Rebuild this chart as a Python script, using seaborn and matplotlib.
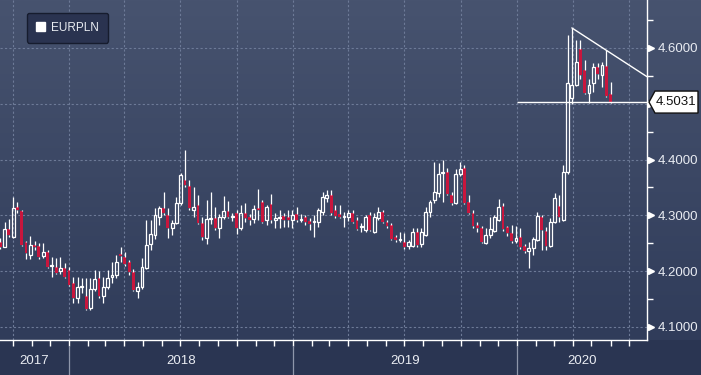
import numpy as np
import pandas as pd
import matplotlib
matplotlib.use("Agg")
import matplotlib.pyplot as plt
import matplotlib.dates as mdates
import matplotlib.transforms as mtrans
from matplotlib.patches import Polygon, Patch
from matplotlib.colors import LinearSegmentedColormap
from matplotlib.ticker import FixedLocator, FuncFormatter
import seaborn as sns

# ---------------- data (weekly EURPLN candles) ----------------
first_week = "2017-09-11"
opens = [4.253, 4.243, 4.276, 4.261, 4.315, 4.308, 4.252, 4.229, 4.247, 4.245,
         4.227, 4.234, 4.209, 4.208, 4.200, 4.206, 4.202, 4.179, 4.152, 4.172,
         4.155, 4.134, 4.168, 4.188, 4.156, 4.172, 4.190, 4.193, 4.231, 4.225,
         4.216, 4.199, 4.164, 4.172, 4.206, 4.249, 4.265, 4.298, 4.313, 4.300,
         4.277, 4.286, 4.322, 4.363, 4.352, 4.309, 4.318, 4.286, 4.260, 4.294,
         4.295, 4.277, 4.297, 4.308, 4.297, 4.304, 4.277, 4.305, 4.297, 4.293,
         4.313, 4.324, 4.292, 4.320, 4.292, 4.295, 4.299, 4.298, 4.292, 4.302,
         4.292, 4.297, 4.290, 4.288, 4.288, 4.306, 4.331, 4.337, 4.309, 4.302,
         4.297, 4.297, 4.304, 4.291, 4.279, 4.274, 4.301, 4.270, 4.296, 4.306,
         4.288, 4.283, 4.261, 4.256, 4.252, 4.245, 4.246, 4.270, 4.248, 4.265,
         4.306, 4.327, 4.340, 4.376, 4.378, 4.336, 4.322, 4.374, 4.385, 4.324,
         4.304, 4.283, 4.277, 4.250, 4.265, 4.272, 4.292, 4.317, 4.279, 4.268,
         4.254, 4.261, 4.245, 4.236, 4.242, 4.256, 4.297, 4.272, 4.245, 4.288,
         4.317, 4.292, 4.377, 4.511, 4.534, 4.598, 4.561, 4.519, 4.537, 4.566,
         4.552, 4.568, 4.518]
highs = [4.260, 4.288, 4.293, 4.333, 4.324, 4.310, 4.255, 4.263, 4.255, 4.250,
         4.250, 4.238, 4.225, 4.224, 4.225, 4.215, 4.208, 4.190, 4.190, 4.188,
         4.188, 4.188, 4.202, 4.200, 4.190, 4.202, 4.217, 4.229, 4.243, 4.234,
         4.220, 4.204, 4.180, 4.224, 4.292, 4.292, 4.313, 4.317, 4.342, 4.313,
         4.292, 4.333, 4.376, 4.417, 4.363, 4.351, 4.336, 4.297, 4.327, 4.342,
         4.315, 4.302, 4.334, 4.326, 4.305, 4.309, 4.318, 4.322, 4.302, 4.318,
         4.347, 4.327, 4.318, 4.338, 4.304, 4.309, 4.304, 4.310, 4.310, 4.315,
         4.302, 4.300, 4.295, 4.300, 4.314, 4.342, 4.345, 4.345, 4.319, 4.319,
         4.306, 4.309, 4.309, 4.297, 4.286, 4.301, 4.306, 4.305, 4.315, 4.310,
         4.292, 4.286, 4.265, 4.270, 4.268, 4.256, 4.277, 4.277, 4.277, 4.315,
         4.327, 4.396, 4.394, 4.399, 4.385, 4.342, 4.383, 4.396, 4.390, 4.336,
         4.310, 4.288, 4.281, 4.277, 4.297, 4.301, 4.330, 4.322, 4.281, 4.283,
         4.281, 4.277, 4.249, 4.253, 4.261, 4.306, 4.301, 4.279, 4.295, 4.340,
         4.336, 4.390, 4.623, 4.636, 4.614, 4.614, 4.578, 4.545, 4.573, 4.573,
         4.575, 4.596, 4.539]
lows = [4.240, 4.243, 4.262, 4.259, 4.305, 4.245, 4.222, 4.222, 4.238, 4.222,
        4.224, 4.205, 4.189, 4.195, 4.195, 4.188, 4.173, 4.143, 4.143, 4.161,
        4.130, 4.130, 4.165, 4.152, 4.143, 4.168, 4.179, 4.188, 4.217, 4.209,
        4.193, 4.165, 4.152, 4.168, 4.204, 4.238, 4.258, 4.283, 4.300, 4.259,
        4.265, 4.284, 4.318, 4.350, 4.310, 4.297, 4.284, 4.256, 4.249, 4.285,
        4.274, 4.260, 4.293, 4.295, 4.290, 4.267, 4.274, 4.288, 4.283, 4.286,
        4.292, 4.286, 4.283, 4.286, 4.277, 4.277, 4.280, 4.280, 4.277, 4.288,
        4.288, 4.283, 4.274, 4.262, 4.280, 4.300, 4.324, 4.300, 4.295, 4.295,
        4.280, 4.290, 4.286, 4.274, 4.270, 4.270, 4.272, 4.268, 4.292, 4.286,
        4.277, 4.256, 4.252, 4.252, 4.240, 4.240, 4.243, 4.243, 4.244, 4.263,
        4.297, 4.322, 4.333, 4.324, 4.336, 4.319, 4.320, 4.370, 4.320, 4.302,
        4.277, 4.270, 4.250, 4.249, 4.260, 4.270, 4.290, 4.272, 4.263, 4.251,
        4.251, 4.240, 4.233, 4.205, 4.229, 4.254, 4.238, 4.238, 4.243, 4.286,
        4.288, 4.290, 4.374, 4.500, 4.532, 4.545, 4.517, 4.501, 4.521, 4.545,
        4.530, 4.512, 4.501]
closes = [4.244, 4.276, 4.265, 4.313, 4.309, 4.247, 4.232, 4.247, 4.244, 4.225,
          4.234, 4.207, 4.212, 4.196, 4.206, 4.190, 4.175, 4.152, 4.172, 4.174,
          4.132, 4.168, 4.186, 4.156, 4.172, 4.188, 4.193, 4.216, 4.227, 4.213,
          4.199, 4.166, 4.172, 4.208, 4.247, 4.267, 4.300, 4.313, 4.304, 4.277,
          4.286, 4.322, 4.372, 4.354, 4.313, 4.315, 4.286, 4.261, 4.294, 4.295,
          4.277, 4.298, 4.308, 4.297, 4.299, 4.278, 4.305, 4.295, 4.292, 4.311,
          4.310, 4.288, 4.315, 4.292, 4.295, 4.296, 4.292, 4.292, 4.300, 4.292,
          4.294, 4.288, 4.285, 4.290, 4.310, 4.333, 4.337, 4.304, 4.299, 4.297,
          4.299, 4.304, 4.288, 4.276, 4.281, 4.297, 4.274, 4.297, 4.306, 4.288,
          4.281, 4.258, 4.256, 4.258, 4.243, 4.252, 4.270, 4.247, 4.270, 4.306,
          4.324, 4.342, 4.374, 4.378, 4.338, 4.322, 4.374, 4.383, 4.322, 4.304,
          4.281, 4.278, 4.252, 4.265, 4.275, 4.297, 4.315, 4.276, 4.268, 4.254,
          4.259, 4.243, 4.236, 4.242, 4.258, 4.299, 4.274, 4.245, 4.288, 4.331,
          4.297, 4.378, 4.537, 4.534, 4.575, 4.552, 4.519, 4.534, 4.566, 4.553,
          4.570, 4.514, 4.5031]
y_ticks = [4.1, 4.2, 4.3, 4.4, 4.5, 4.6]
years = [2017, 2018, 2019, 2020]
series_name = "EURPLN"

# ---------------- styling ----------------
sns.set_theme(style="dark")
plt.rcParams["font.family"] = ["Liberation Sans", "DejaVu Sans"]

RED = "#c8163d"
TXT = "#e9ecf2"
GRID = "#6d7a97"
FS = 9

fig = plt.figure(figsize=(7.01, 3.75), dpi=100)
fig.patch.set_facecolor("#2a3552")

bottom = 35 / 375
height = 340 / 375
bg = fig.add_axes([0, bottom, 1, height])
grad = np.linspace(0, 1, 256).reshape(-1, 1)
cmap = LinearSegmentedColormap.from_list("g", ["#47536f", "#303c5a"])
bg.imshow(grad, aspect="auto", cmap=cmap, extent=[0, 1, 0, 1], origin="upper")
bg.axis("off")

ax = fig.add_axes([0, bottom, 647 / 701, height])
ax.patch.set_alpha(0)

df = pd.DataFrame({"date": pd.date_range(first_week, periods=len(closes), freq="7D"),
                   "open": opens, "high": highs, "low": lows, "close": closes})
x = mdates.date2num(df["date"])
o = df["open"].to_numpy(); h = df["high"].to_numpy()
l = df["low"].to_numpy(); c = df["close"].to_numpy()
top = np.maximum(o, c); bot = np.minimum(o, c)
up = c >= o
last = c[-1]

ax.vlines(x, top, h, color="white", lw=0.9)
ax.vlines(x, l, bot, color="white", lw=0.9)
bw = 4.6
ax.bar(x[up], np.maximum(top[up] - bot[up], 0.0015), bottom=bot[up], width=bw,
       facecolor="none", edgecolor="white", linewidth=0.9)
ax.bar(x[~up], np.maximum(top[~up] - bot[~up], 0.0015), bottom=bot[~up], width=bw,
       color=RED, linewidth=0)

xl = mdates.date2num(pd.Timestamp("2017-09-10 15:00"))
xr = mdates.date2num(pd.Timestamp("2020-07-30 10:00"))
ax.set_xlim(xl, xr)
ax.set_ylim(4.0767, 4.686)

# trend line through two highs, extended to the right edge
i0, i1 = 133, 141
slope = (h[i1] - h[i0]) / (x[i1] - x[i0])
sns.lineplot(x=[x[i0], xr], y=[h[i0], h[i0] + slope * (xr - x[i0])], ax=ax,
             color="white", lw=1.0)
# last price line
ax.hlines(last, mdates.date2num(pd.Timestamp("2020-01-01")), xr, color="white", lw=1.0)

# spines
for s in ["top", "left"]:
    ax.spines[s].set_visible(False)
for s in ["right", "bottom"]:
    ax.spines[s].set_visible(True)
    ax.spines[s].set_color("white")
    ax.spines[s].set_linewidth(1.0)

# y axis (the label hidden under the last-price tag is left blank)
hh = 11 / 558
ax.yaxis.tick_right()
ax.yaxis.set_major_locator(FixedLocator(y_ticks))
ax.yaxis.set_minor_locator(FixedLocator([v + 0.05 for v in y_ticks]))
ax.yaxis.set_major_formatter(FuncFormatter(
    lambda v, p: "" if abs(v - last) < 2 * hh else f"{v:.4f}"))
ax.tick_params(axis="y", which="major", length=0, pad=7.5, labelsize=FS + 0.5,
               labelcolor=TXT, left=False, right=True, labelleft=False, labelright=True)
ax.tick_params(axis="y", which="minor", length=4, width=1, color="white", direction="out",
               left=False, right=True)
tri = mtrans.blended_transform_factory(ax.transAxes, ax.transData)
ax.plot([1.0065] * len(y_ticks), y_ticks, marker=">", ms=5, color="white", ls="none",
        clip_on=False, transform=tri)

# x axis
ax.xaxis.set_major_locator(mdates.MonthLocator(bymonth=[1, 4, 7, 10]))
ax.xaxis.set_minor_locator(mdates.MonthLocator())
ax.tick_params(axis="x", which="both", length=4, width=1, color="white", direction="out",
               labelbottom=False, bottom=True)
ax.grid(True, which="major", axis="both", color=GRID, ls=(0, (2, 2)), lw=0.8)

# year labels and separators in bottom band
yt = mtrans.blended_transform_factory(ax.transData, fig.transFigure)
for yr in years:
    a = max(mdates.date2num(pd.Timestamp(f"{yr}-01-01")), xl)
    b = min(mdates.date2num(pd.Timestamp(f"{yr + 1}-01-01")), xr)
    ax.text((a + b) / 2, 1 - 361 / 375, str(yr), transform=yt, ha="center", va="center",
            fontsize=FS + 0.5, color=TXT, clip_on=False)
    if yr > years[0]:
        ax.plot([a, a], [0, 1 - 346 / 375], transform=yt, color="#8e96aa", lw=0.9,
                clip_on=False)

# legend
leg = ax.legend(handles=[Patch(facecolor="white", edgecolor="white", label=series_name)],
                loc="upper left", bbox_to_anchor=(27 / 647, 1 - 13 / 340), frameon=True,
                facecolor="#2a3350", edgecolor="#161c2e", fontsize=8.5, labelcolor=TXT,
                handlelength=0.8, handleheight=0.8, handletextpad=0.5, borderpad=0.75,
                borderaxespad=0, fancybox=True, framealpha=1)

# last price tag
pt = mtrans.blended_transform_factory(fig.transFigure, ax.transData)
poly = Polygon([(649 / 701, last), (655 / 701, last + hh), (698 / 701, last + hh),
                (698 / 701, last - hh), (655 / 701, last - hh)], closed=True,
               transform=pt, facecolor="white", edgecolor="#111111", lw=1, clip_on=False,
               zorder=5)
ax.add_patch(poly)
ax.text(676.5 / 701, last, f"{last:.4f}", transform=pt, ha="center", va="center",
        fontsize=FS + 0.5, color="#111111", clip_on=False, zorder=6)

fig.savefig("out.png", dpi=100, facecolor=fig.get_facecolor())
